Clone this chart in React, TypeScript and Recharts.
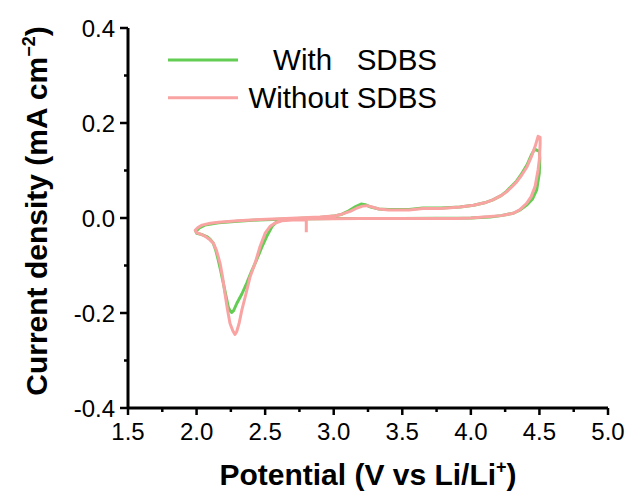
import { LineChart, Line, XAxis, YAxis, Legend, Label } from "recharts";

// series names as shown in the legend
const seriesNames = ["With   SDBS", "Without SDBS"];
const seriesColors = ["#63cd53", "#f9a3a3"];

// With SDBS: potential (V) and current density (mA cm-2), in scan order
const withV = [
  2.7, 2.62, 2.584, 2.55, 2.511, 2.475, 2.438, 2.4, 2.366, 2.33, 2.293, 2.27, 2.256, 2.243, 2.231,
  2.215, 2.195, 2.175, 2.158, 2.14, 2.122, 2.1, 2.074, 2.04, 2.0,
  1.995, 2.02, 2.06, 2.16, 2.3, 2.45, 2.65, 2.9, 3.0, 3.06, 3.11, 3.16, 3.2, 3.23, 3.27, 3.33,
  3.4, 3.55, 3.65, 3.78, 3.92, 4.02, 4.1, 4.16, 4.22, 4.26, 4.3, 4.334, 4.37, 4.41, 4.44, 4.465,
  4.48, 4.5,
  4.503, 4.499, 4.48, 4.45, 4.41, 4.36, 4.31, 4.22, 4.14, 4.0, 3.5, 3.0, 2.7,
];
const withI = [
  -0.002, -0.005, -0.008, -0.018, -0.039, -0.062, -0.088, -0.113, -0.137, -0.16, -0.18, -0.195,
  -0.199, -0.195, -0.187, -0.165, -0.137, -0.11, -0.088, -0.068, -0.053, -0.045, -0.039, -0.035,
  -0.032,
  -0.028, -0.021, -0.015, -0.01, -0.007, -0.004, -0.002, 0.001, 0.004, 0.008, 0.015, 0.024, 0.0295,
  0.028, 0.023, 0.019, 0.018, 0.018, 0.021, 0.021, 0.023, 0.027, 0.032, 0.038, 0.047, 0.056, 0.068,
  0.078, 0.093, 0.112, 0.132, 0.145, 0.143, 0.14,
  0.125, 0.094, 0.059, 0.04, 0.028, 0.017, 0.01, 0.005, 0.002, 0.0, -0.001, -0.001, -0.002,
];

// Without SDBS
const withoutV = [
  2.8, 2.8, 2.7, 2.62, 2.57, 2.535, 2.5, 2.463, 2.43, 2.39, 2.36, 2.33, 2.31, 2.293, 2.28, 2.265,
  2.244, 2.225, 2.207, 2.19, 2.171, 2.145, 2.122, 2.09, 2.06, 2.03, 2.0,
  1.99, 2.01, 2.04, 2.1, 2.16, 2.3, 2.4, 2.65, 2.9, 3.0, 3.06, 3.12, 3.17, 3.21, 3.24, 3.28, 3.33,
  3.4, 3.55, 3.65, 3.78, 3.92, 4.02, 4.1, 4.16, 4.22, 4.26, 4.3, 4.334, 4.37, 4.41, 4.44, 4.47,
  4.49, 4.505,
  4.505, 4.5, 4.49, 4.468, 4.44, 4.407, 4.36, 4.31, 4.22, 4.14, 4.0, 3.9, 3.5, 3.2, 2.8,
];
const withoutI = [
  -0.03, -0.004, -0.004, -0.006, -0.011, -0.018, -0.032, -0.06, -0.092, -0.124, -0.16, -0.194,
  -0.222, -0.239, -0.245, -0.238, -0.222, -0.192, -0.159, -0.125, -0.095, -0.068, -0.053, -0.044,
  -0.038, -0.034, -0.031,
  -0.026, -0.02, -0.015, -0.011, -0.009, -0.006, -0.004, -0.001, 0.002, 0.004, 0.008, 0.014, 0.021,
  0.025, 0.026, 0.023, 0.019, 0.017, 0.017, 0.02, 0.02, 0.023, 0.027, 0.032, 0.038, 0.047, 0.055,
  0.066, 0.076, 0.09, 0.108, 0.128, 0.152, 0.172, 0.17,
  0.155, 0.125, 0.101, 0.066, 0.045, 0.031, 0.018, 0.01, 0.005, 0.003, 0.0, -0.001, -0.001, -0.001,
  -0.002,
];

const xTicks = [1.5, 1.75, 2.0, 2.25, 2.5, 2.75, 3.0, 3.25, 3.5, 3.75, 4.0, 4.25, 4.5, 4.75, 5.0];
const yTicks = [-0.4, -0.3, -0.2, -0.1, 0.0, 0.1, 0.2, 0.3, 0.4];

const toPoints = (vs: number[], is: number[]) => vs.map((v, k) => ({ x: v, y: is[k] }));

const FONT = "'Liberation Sans', Arial, sans-serif";

const XTick = (props: any) => {
  const { x, y, payload } = props;
  const v = payload.value;
  const major = Math.abs(v * 2 - Math.round(v * 2)) < 1e-6;
  return (
    <g>
      <line x1={x} x2={x} y1={y} y2={y + (major ? 7 : 4)} stroke="#000" strokeWidth={2.5} />
      {major && (
        <text x={x} y={y + 32} textAnchor="middle" fontSize={24} fontFamily={FONT} fill="#000">
          {v.toFixed(1)}
        </text>
      )}
    </g>
  );
};

const YTick = (props: any) => {
  const { x, y, payload } = props;
  const v = payload.value;
  const major = Math.abs(v * 5 - Math.round(v * 5)) < 1e-6;
  return (
    <g>
      <line x1={x} x2={x - (major ? 8 : 4)} y1={y} y2={y} stroke="#000" strokeWidth={2.5} />
      {major && (
        <text x={x - 13} y={y + 8.5} textAnchor="end" fontSize={24} fontFamily={FONT} fill="#000">
          {v.toFixed(1)}
        </text>
      )}
    </g>
  );
};

const LegendBox = (props: any) => {
  const items = props.payload || [];
  return (
    <svg width={300} height={80} style={{ display: "block" }}>
      {items.map((it: any, k: number) => {
        const cy = 20 + k * 37.7;
        return (
          <g key={k}>
            <line x1={8} x2={78} y1={cy} y2={cy} stroke={it.color} strokeWidth={3} />
            <text
              x={277}
              y={cy + 10}
              textAnchor="end"
              fontSize={29.5}
              fontFamily={FONT}
              fill="#000"
              style={{ whiteSpace: "pre" }}
            >
              {it.value}
            </text>
          </g>
        );
      })}
    </svg>
  );
};

const XTitle = (props: any) => {
  const vb = props.viewBox;
  return (
    <text
      x={vb.x + vb.width / 2}
      y={vb.y + 77}
      textAnchor="middle"
      fontSize={30}
      fontWeight="bold"
      fontFamily={FONT}
      fill="#000"
    >
      Potential (V vs Li/Li
      <tspan fontSize={18} dy={-12}>+</tspan>
      <tspan dy={12}>)</tspan>
    </text>
  );
};

const YTitle = (props: any) => {
  const vb = props.viewBox;
  const cx = 47;
  const cy = vb.y + vb.height / 2 - 7;
  return (
    <text
      x={cx}
      y={cy}
      transform={`rotate(-90 ${cx} ${cy})`}
      textAnchor="middle"
      fontSize={30}
      fontWeight="bold"
      fontFamily={FONT}
      fill="#000"
    >
      Current density (mA cm
      <tspan fontSize={18} dy={-12}>−2</tspan>
      <tspan dy={12}>)</tspan>
    </text>
  );
};

export default function App() {
  const withData = toPoints(withV, withI);
  const withoutData = toPoints(withoutV, withoutI);
  return (
    <div style={{ position: "absolute", left: 0, top: 0, background: "#fff" }}>
      <LineChart width={632} height={495} margin={{ top: 28, right: 24, bottom: 0, left: 0 }}>
        <XAxis
          dataKey="x"
          type="number"
          domain={[1.5, 5]}
          ticks={xTicks}
          interval={0}
          height={87}
          tickSize={0}
          tickMargin={0}
          tickLine={false}
          tick={<XTick />}
          axisLine={{ stroke: "#000", strokeWidth: 3 }}
          allowDataOverflow
        >
          <Label content={<XTitle />} />
        </XAxis>
        <XAxis
          xAxisId="top"
          orientation="top"
          dataKey="x"
          type="number"
          domain={[1.5, 5]}
          height={0}
          tick={false}
          tickLine={false}
          axisLine={{ stroke: "#000", strokeWidth: 2.5 }}
        />
        <YAxis
          type="number"
          domain={[-0.4, 0.4]}
          ticks={yTicks}
          interval={0}
          width={128}
          tickSize={0}
          tickMargin={0}
          tickLine={false}
          tick={<YTick />}
          axisLine={{ stroke: "#000", strokeWidth: 3 }}
          allowDataOverflow
        >
          <Label content={<YTitle />} />
        </YAxis>
        <YAxis
          yAxisId="right"
          orientation="right"
          type="number"
          domain={[-0.4, 0.4]}
          width={0}
          tick={false}
          tickLine={false}
          axisLine={{ stroke: "#000", strokeWidth: 2.5 }}
        />
        <Legend
          layout="vertical"
          align="center"
          verticalAlign="middle"
          content={<LegendBox />}
          wrapperStyle={{ left: 160, top: 40, width: 300 }}
        />
        <Line
          data={withData}
          dataKey="y"
          name={seriesNames[0]}
          type="linear"
          stroke={seriesColors[0]}
          strokeWidth={3}
          strokeLinejoin="round"
          dot={false}
          activeDot={false}
          isAnimationActive={false}
        />
        <Line
          data={withoutData}
          dataKey="y"
          name={seriesNames[1]}
          type="linear"
          stroke={seriesColors[1]}
          strokeWidth={3}
          strokeLinejoin="round"
          dot={false}
          activeDot={false}
          isAnimationActive={false}
        />
      </LineChart>
    </div>
  );
}
